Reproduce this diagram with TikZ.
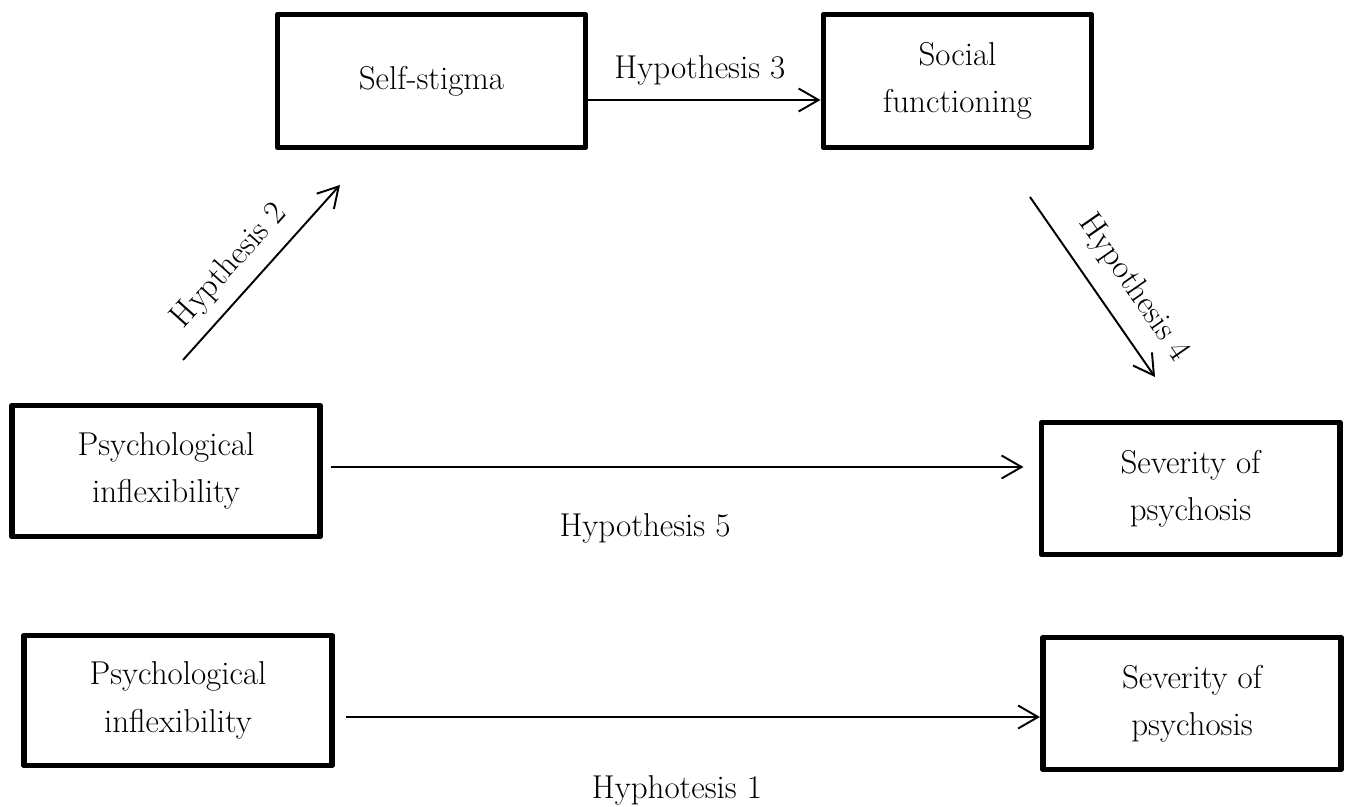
\documentclass[tikz,border=0pt]{standalone}
\usetikzlibrary{arrows.meta,positioning}
\tikzset{
  block/.style={draw,line width=3.4pt,line join=round,align=center,inner sep=0pt,font=\fontsize{18.8}{27}\selectfont},
  link/.style={-{Straight Barb[length=4mm,width=4.6mm]},line width=1.1pt},
  hyp/.style={font=\fontsize{18.8}{27}\selectfont}
}
\begin{document}
\begin{tikzpicture}
\useasboundingbox (0,0) rectangle (27.1,-16.14);
%Kaesten oben
\node[block,minimum width=6.16cm,minimum height=2.66cm] (stigma) at (8.63,-1.62) {Self-stigma};
\node[block,minimum width=5.36cm,minimum height=2.66cm] (social) at (19.15,-1.62) {Social\\functioning};
%Modell mit Mediatoren
\node[block,minimum width=6.16cm,minimum height=2.62cm] (inflexA) at (3.32,-9.42) {Psychological\\inflexibility};
\node[block,minimum width=5.96cm,minimum height=2.64cm] (severA) at (23.81,-9.77) {Severity of\\psychosis};
%direkter Effekt
\node[block,minimum width=6.16cm,minimum height=2.60cm] (inflexB) at (3.56,-14.01) {Psychological\\inflexibility};
\node[block,minimum width=5.96cm,minimum height=2.64cm] (severB) at (23.84,-14.07) {Severity of\\psychosis};
\coordinate (hTwoA) at (3.66,-7.2);
\coordinate (hTwoB) at (6.8,-3.7);
\coordinate (hFourA) at (20.6,-3.94);
\coordinate (hFourB) at (23.1,-7.54);
\draw[link] ([yshift=-3.8mm]stigma.east) --node[hyp,pos=0.48,yshift=6mm] {Hypothesis 3} ([yshift=-3.8mm]social.west);
\draw[link] (hTwoA) --node[hyp,pos=0.43,sloped,above=1.3mm] {Hypthesis 2} (hTwoB);
\draw[link] (hFourA) --node[hyp,pos=0.61,sloped,above=2.3mm] {Hypothesis 4} (hFourB);
\draw[link,shorten <=1.6mm,shorten >=3mm] ([yshift=0.8mm]inflexA.east) --node[hyp,pos=0.45,yshift=-12.2mm] {Hypothesis 5} ([yshift=0.8mm]inflexA.east -| severA.west);
\draw[link,shorten <=2.2mm] ([yshift=-3.3mm]inflexB.east) --node[hyp,pos=0.485,yshift=-14.6mm] {Hyphotesis 1} ([yshift=-3.3mm]inflexB.east -| severB.west);
\end{tikzpicture}
\end{document}
